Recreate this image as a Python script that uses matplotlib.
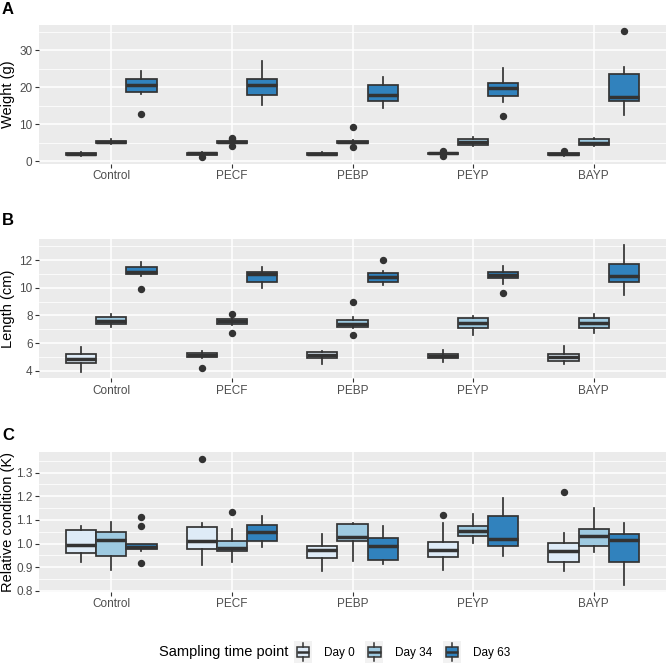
import matplotlib
matplotlib.use("Agg")
import matplotlib.pyplot as plt
from matplotlib.patches import Rectangle
from matplotlib.lines import Line2D
from matplotlib.legend_handler import HandlerBase
from matplotlib.ticker import MultipleLocator

plt.rcParams['font.family'] = ['Liberation Sans', 'DejaVu Sans']

groups = ["Control", "PECF", "PEBP", "PEYP", "BAYP"]
days = ["Day 0", "Day 34", "Day 63"]
day_colors = ["#DEEBF7", "#9ECAE1", "#3182BD"]

# box stats per group: [whisker low, q1, median, q3, whisker high]
weight_day0 = [[1.3, 1.7, 1.9, 2.2, 2.6], [1.6, 1.8, 2.1, 2.3, 2.5], [1.6, 1.8, 2.0, 2.3, 2.5],
               [1.7, 1.9, 2.1, 2.3, 2.5], [1.5, 1.7, 1.9, 2.2, 2.4]]
weight_day0_out = [[], [1.2], [], [2.9, 1.4], [2.9]]
weight_day34 = [[4.6, 4.9, 5.2, 5.6, 6.0], [4.6, 4.9, 5.2, 5.5, 5.8], [4.4, 4.8, 5.1, 5.4, 5.8],
                [4.0, 4.5, 5.3, 6.1, 6.5], [4.1, 4.4, 5.0, 5.9, 6.3]]
weight_day34_out = [[], [6.3, 5.9, 4.0], [9.3, 3.9], [], []]
weight_day63 = [[18.2, 18.8, 20.6, 22.3, 24.5], [15.2, 18.0, 20.5, 22.2, 27.1], [14.5, 16.2, 17.8, 20.7, 22.8],
                [16.0, 17.6, 19.7, 21.2, 25.3], [12.6, 16.2, 17.4, 23.5, 25.4]]
weight_day63_out = [[12.9], [], [], [12.3], [35.1]]

length_day0 = [[3.9, 4.58, 4.85, 5.2, 5.71], [4.9, 4.96, 5.1, 5.25, 5.4], [4.48, 4.94, 5.13, 5.33, 5.45],
               [4.6, 4.89, 5.06, 5.2, 5.47], [4.5, 4.72, 5.01, 5.23, 5.78]]
length_day0_out = [[], [4.2], [], [], []]
length_day34 = [[7.18, 7.35, 7.62, 7.86, 8.07], [7.3, 7.37, 7.57, 7.73, 7.85], [7.08, 7.18, 7.4, 7.64, 7.86],
                [6.6, 7.11, 7.42, 7.78, 7.98], [6.7, 7.11, 7.42, 7.83, 8.07]]
length_day34_out = [[], [8.1, 6.7], [8.99, 6.58], [], []]
length_day63 = [[10.84, 10.96, 11.16, 11.47, 11.88], [10.0, 10.39, 10.96, 11.16, 11.47],
                [10.19, 10.39, 10.8, 11.08, 11.23], [10.29, 10.67, 10.89, 11.1, 11.57],
                [9.49, 10.41, 10.82, 11.69, 13.08]]
length_day63_out = [[9.88], [], [11.98], [9.59], []]

cond_day0 = [[0.921, 0.958, 0.994, 1.058, 1.073], [0.908, 0.975, 1.01, 1.07, 1.089],
             [0.882, 0.937, 0.973, 0.99, 1.039], [0.887, 0.945, 0.972, 1.007, 1.087],
             [0.882, 0.92, 0.968, 1.004, 1.045]]
cond_day0_out = [[], [1.358], [], [1.121], [1.22]]
cond_day34 = [[0.889, 0.948, 1.015, 1.048, 1.09], [0.924, 0.968, 0.98, 1.011, 1.062],
              [0.927, 1.011, 1.028, 1.082, 1.089], [1.001, 1.03, 1.055, 1.076, 1.127],
              [0.965, 0.99, 1.031, 1.061, 1.149]]
cond_day34_out = [[], [1.134], [], [], []]
cond_day63 = [[0.97, 0.975, 0.987, 1.0, 1.0], [0.987, 1.011, 1.048, 1.077, 1.117],
              [0.913, 0.932, 0.99, 1.025, 1.073], [0.949, 0.989, 1.02, 1.115, 1.193],
              [0.824, 0.921, 1.014, 1.041, 1.085]]
cond_day63_out = [[1.113, 1.073, 0.917], [], [], [], []]

panels = [
    dict(letter="A", ylabel="Weight (g)", stats=[weight_day0, weight_day34, weight_day63],
         outs=[weight_day0_out, weight_day34_out, weight_day63_out],
         ylim=(-0.75, 36.85), major=10, minor=5),
    dict(letter="B", ylabel="Length (cm)", stats=[length_day0, length_day34, length_day63],
         outs=[length_day0_out, length_day34_out, length_day63_out],
         ylim=(3.45, 13.52), major=2, minor=1),
    dict(letter="C", ylabel="Relative condition (K)", stats=[cond_day0, cond_day34, cond_day63],
         outs=[cond_day0_out, cond_day34_out, cond_day63_out],
         ylim=(0.795, 1.386), major=0.1, minor=0.05),
]

W = H = 667
fig = plt.figure(figsize=(6.67, 6.67), dpi=100)

# panel rectangles in pixels: (top, bottom)
panel_px = [(25, 164), (239, 378.3), (452.3, 592)]
letter_y = [9, 221, 436]
left_px, right_px = 39, 666

edge = "#333333"
dodge = [-0.25, 0.0, 0.25]
bw = 0.25

for p, (top, bot), ly in zip(panels, panel_px, letter_y):
    ax = fig.add_axes([left_px / W, 1 - bot / H, (right_px - left_px) / W, (bot - top) / H])
    ax.set_facecolor("#EBEBEB")
    for s in ax.spines.values():
        s.set_visible(False)
    ax.set_xlim(-0.6, len(groups) - 0.4)
    ax.set_ylim(*p["ylim"])
    ax.yaxis.set_major_locator(MultipleLocator(p["major"]))
    ax.yaxis.set_minor_locator(MultipleLocator(p["minor"]))
    ax.grid(which="major", color="white", linewidth=1.1, zorder=0)
    ax.grid(which="minor", axis="y", color="white", linewidth=0.55, zorder=0)
    ax.set_axisbelow(True)
    ax.tick_params(which="major", length=2.8, width=0.8, color=edge, labelcolor="#4D4D4D",
                   labelsize=8.5, pad=1.8)
    ax.tick_params(which="minor", length=0)
    if p["letter"] == "C":
        ax.yaxis.set_major_formatter(matplotlib.ticker.FormatStrFormatter("%.1f"))
    ax.set_ylabel(p["ylabel"], fontsize=10.5, color="black")
    ax.yaxis.set_label_coords(-0.038, 0.5)

    for di in range(len(days)):
        st = []
        for gi in range(len(groups)):
            wl, q1, md, q3, wh = p["stats"][di][gi]
            st.append(dict(whislo=wl, q1=q1, med=md, q3=q3, whishi=wh, fliers=p["outs"][di][gi]))
        pos = [gi + dodge[di] for gi in range(len(groups))]
        ax.bxp(st, positions=pos, widths=bw, patch_artist=True, showcaps=False,
               boxprops=dict(facecolor=day_colors[di], edgecolor=edge, linewidth=1.25),
               whiskerprops=dict(color=edge, linewidth=1.25),
               medianprops=dict(color=edge, linewidth=2.5, solid_capstyle="butt"),
               flierprops=dict(marker="o", markerfacecolor=edge, markeredgecolor=edge,
                               markersize=4.3, linestyle="none"),
               manage_ticks=False, zorder=3)
    ax.set_xticks(range(len(groups)))
    ax.set_xticklabels(groups)

    fig.text(2 / W, 1 - ly / H, p["letter"], fontsize=12, fontweight="bold", va="center", ha="left")


class BoxKeyHandler(HandlerBase):
    def create_artists(self, legend, orig_handle, xdescent, ydescent, width, height, fontsize, trans):
        x0, y0 = -xdescent, -ydescent
        arts = [Rectangle((x0, y0), width, height, facecolor="#F2F2F2", edgecolor="none", transform=trans)]
        bx0 = x0 + 0.15 * width
        arts.append(Rectangle((bx0, y0 + 0.27 * height), 0.7 * width, 0.46 * height,
                              facecolor=orig_handle.get_facecolor(), edgecolor=edge, linewidth=1.1,
                              transform=trans))
        xm = x0 + 0.5 * width
        arts.append(Line2D([xm, xm], [y0 + 0.08 * height, y0 + 0.27 * height], color=edge, lw=1.1, transform=trans))
        arts.append(Line2D([xm, xm], [y0 + 0.73 * height, y0 + 0.92 * height], color=edge, lw=1.1, transform=trans))
        arts.append(Line2D([bx0, bx0 + 0.7 * width], [y0 + 0.5 * height] * 2, color=edge, lw=1.8,
                           solid_capstyle="butt", transform=trans))
        return arts


handles = [Rectangle((0, 0), 1, 1, facecolor=c) for c in day_colors]
fig.legend(handles, days, handler_map={Rectangle: BoxKeyHandler()}, ncol=3, frameon=False,
           loc="center left", bbox_to_anchor=(294 / W, 1 - 652 / H), fontsize=8.5,
           handlelength=1.53, handleheight=2.36, handletextpad=1.0, columnspacing=0.9,
           borderpad=0, borderaxespad=0)
fig.text(159 / W, 1 - 652 / H, "Sampling time point", fontsize=10.5, va="center", ha="left")

fig.savefig("out.png", dpi=100)
